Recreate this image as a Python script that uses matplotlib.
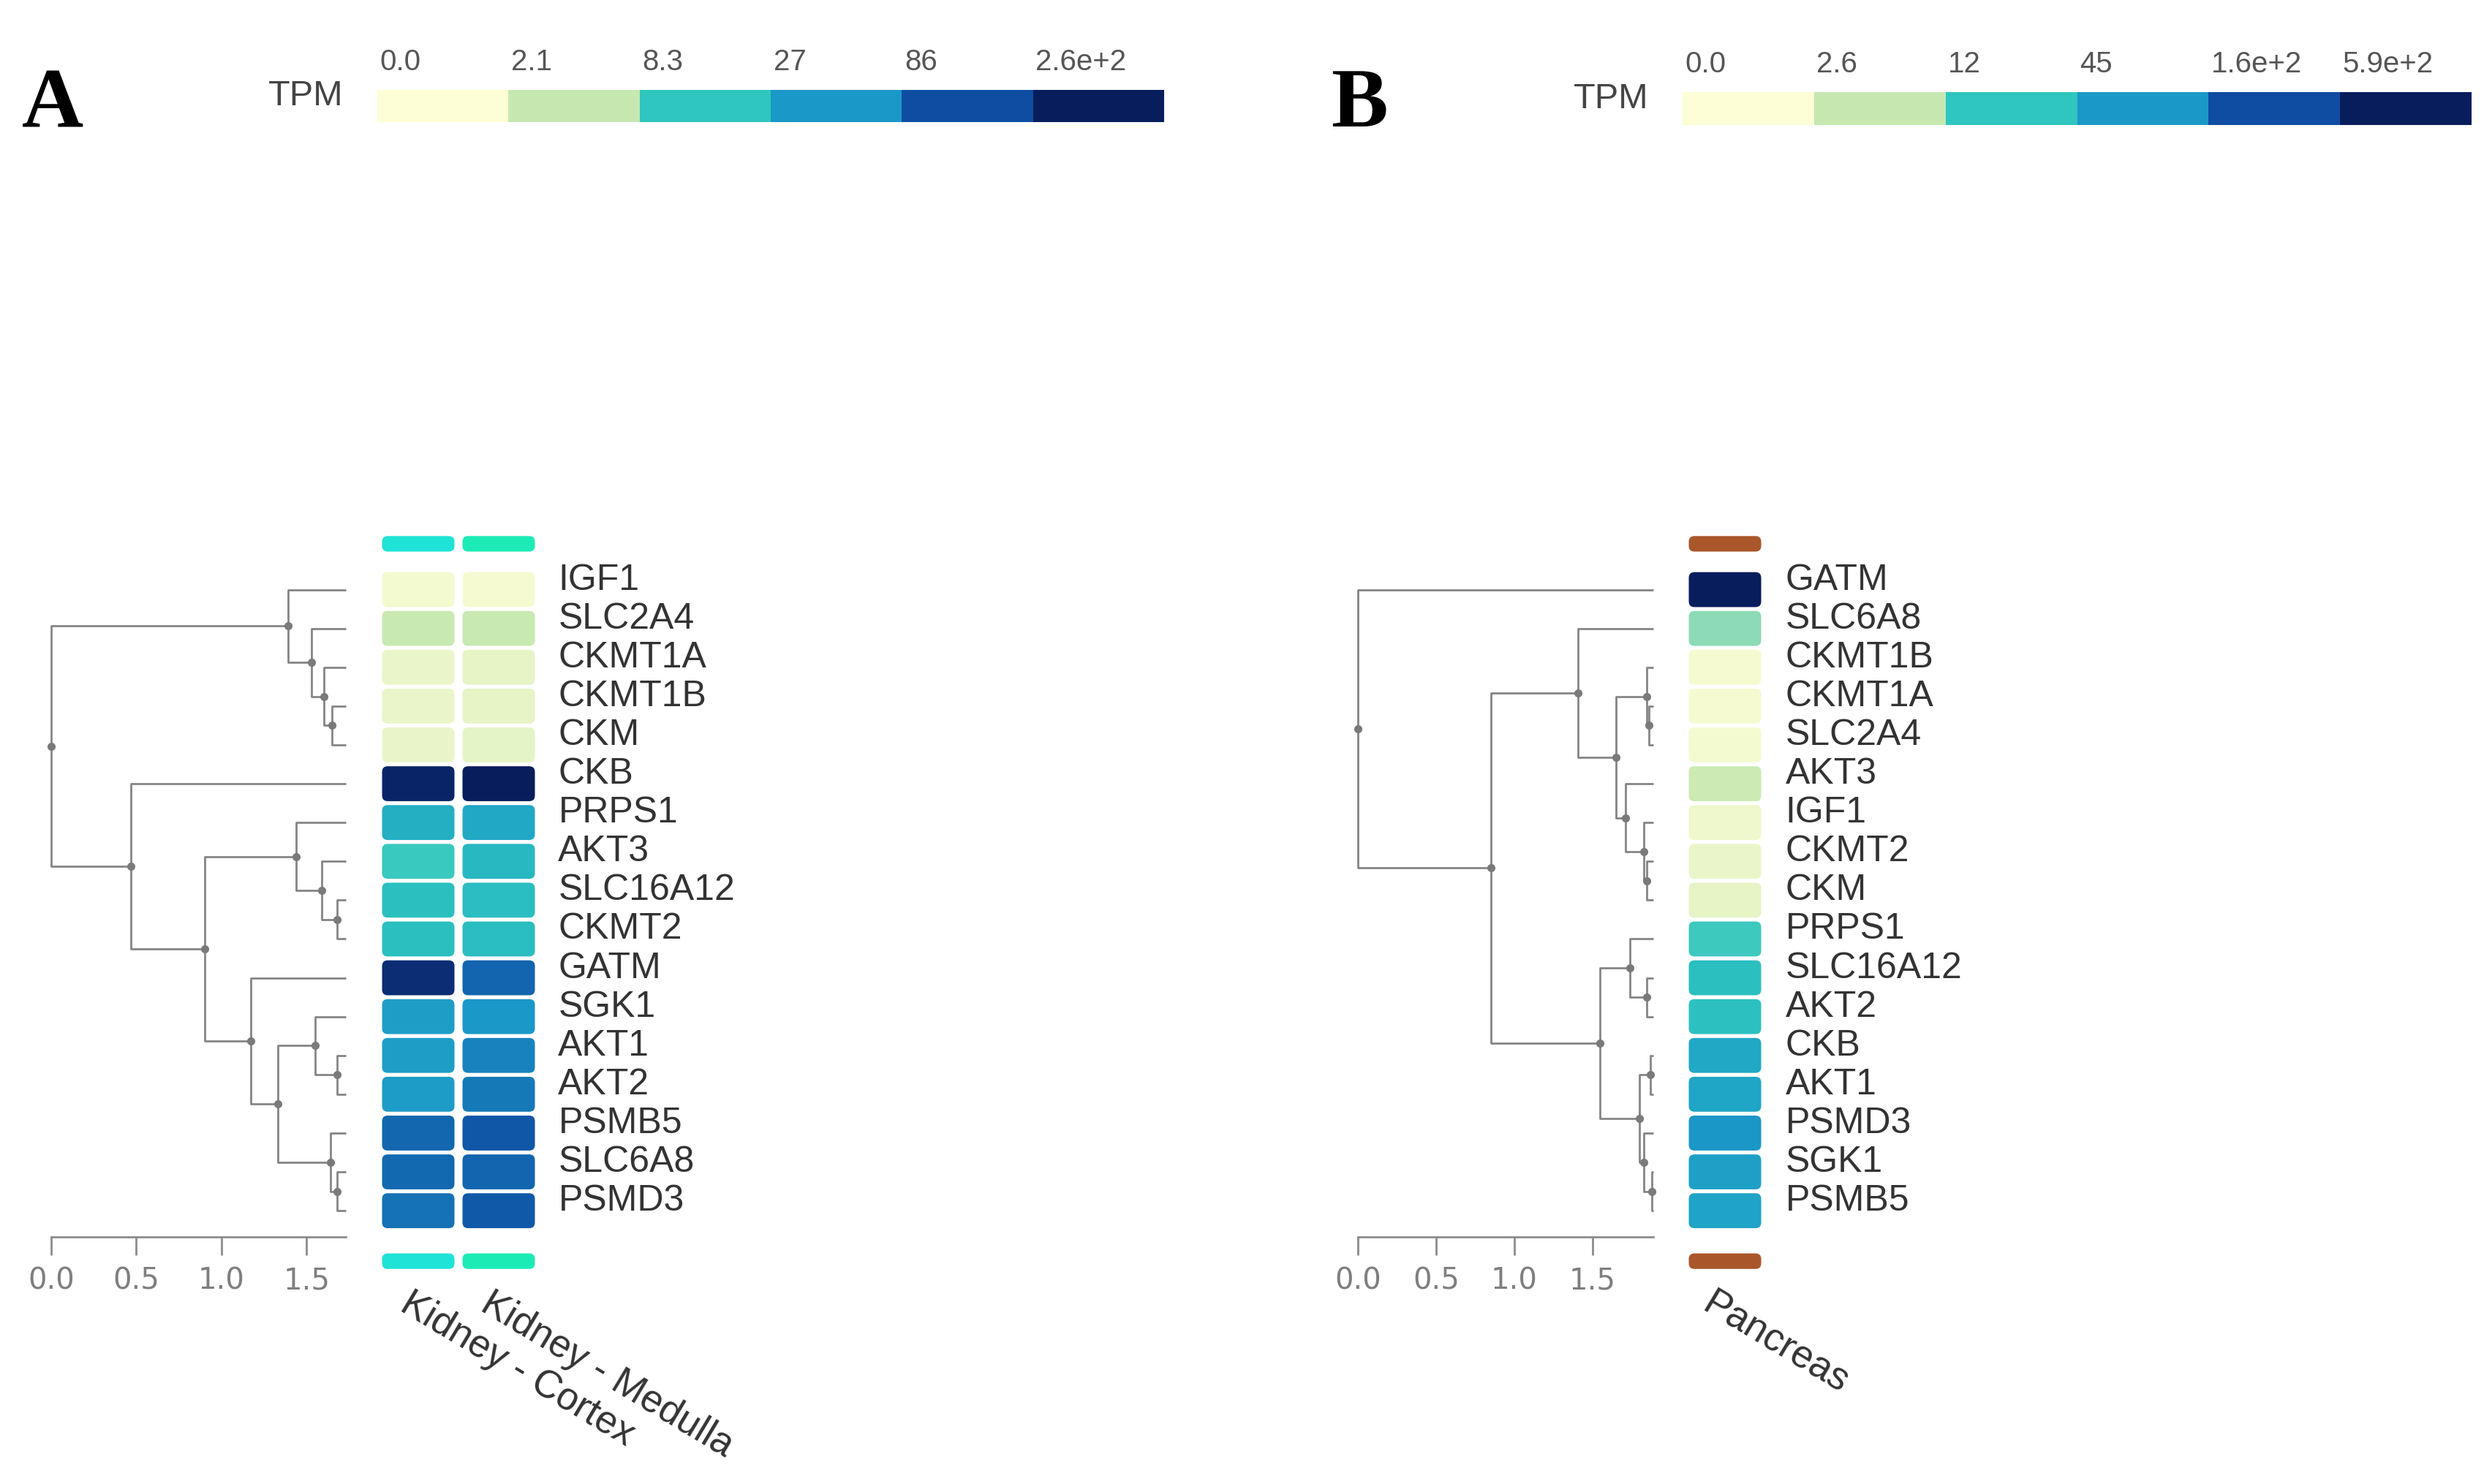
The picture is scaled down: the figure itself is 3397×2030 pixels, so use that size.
import numpy as np
import matplotlib
matplotlib.use('Agg')
import matplotlib.pyplot as plt
from matplotlib.colors import LinearSegmentedColormap
from matplotlib.patches import FancyBboxPatch

# ---- panel A: kidney ----
genes_a = ['IGF1', 'SLC2A4', 'CKMT1A', 'CKMT1B', 'CKM', 'CKB', 'PRPS1', 'AKT3',
           'SLC16A12', 'CKMT2', 'GATM', 'SGK1', 'AKT1', 'AKT2', 'PSMB5',
           'SLC6A8', 'PSMD3']
tissues_a = ['Kidney - Cortex', 'Kidney - Medulla']
tpm_cortex = [0.2, 2.0, 0.5, 0.5, 0.55, 210, 15, 7.5, 10, 10, 177, 23,
              23, 24.5, 57, 56, 49]
tpm_medulla = [0.17, 2.0, 0.6, 0.6, 0.65, 300, 18, 12, 10.5, 10.5, 60, 27,
               37.5, 43, 73, 60, 72]
tissue_colors_a = ['#1fe3d6', '#1debb5']
cbar_edges_a = [0, 2.1, 8.3, 27, 86, 260]
cbar_labels_a = ['0.0', '2.1', '8.3', '27', '86', '2.6e+2']
# merges: (child, child, node position on the distance axis)
merges_a = [(3, 4, 1.65), (2, 17, 1.60), (1, 18, 1.53), (0, 19, 1.39),
            (8, 9, 1.68), (7, 21, 1.59), (6, 22, 1.44),
            (12, 13, 1.68), (11, 24, 1.55), (15, 16, 1.68), (14, 26, 1.64),
            (25, 27, 1.33), (10, 28, 1.17), (23, 29, 0.90), (5, 30, 0.47),
            (20, 31, 0.0)]
leaf_end_a = 1.73

# ---- panel B: pancreas ----
genes_b = ['GATM', 'SLC6A8', 'CKMT1B', 'CKMT1A', 'SLC2A4', 'AKT3', 'IGF1',
           'CKMT2', 'CKM', 'PRPS1', 'SLC16A12', 'AKT2', 'CKB', 'AKT1', 'PSMD3',
           'SGK1', 'PSMB5']
tissues_b = ['Pancreas']
tpm_pancreas = [590, 4.8, 0.21, 0.21, 0.23, 2.2, 0.41, 0.59, 0.71, 10.4,
                14.7, 13.8, 28.6, 31.3, 46, 36, 33]
tissue_colors_b = ['#a9572a']
cbar_edges_b = [0, 2.6, 12, 45, 160, 590]
cbar_labels_b = ['0.0', '2.6', '12', '45', '1.6e+2', '5.9e+2']
merges_b = [(3, 4, 1.86), (2, 17, 1.85), (7, 8, 1.85), (6, 19, 1.83),
            (5, 20, 1.71), (18, 21, 1.65), (1, 22, 1.41),
            (10, 11, 1.85), (9, 24, 1.74), (12, 13, 1.87), (15, 16, 1.88),
            (14, 27, 1.83), (26, 28, 1.80), (25, 29, 1.55), (23, 30, 0.85),
            (0, 31, 0.0)]
leaf_end_b = 1.89

block_colors = ['#fdfdd6', '#c6e8b0', '#2ec6bf', '#1a98c8', '#0e4da2', '#081d5c']
cmap = LinearSegmentedColormap.from_list('tpm', block_colors)

W, H = 3397, 2030
ROW = 53.1
CELL_TOP = 780
fig = plt.figure(figsize=(W / 100, H / 100), dpi=100)

DENDRO_C = '#858585'
TEXT_C = '#333333'


def px_axes(left, top, right, bottom):
    return fig.add_axes([left / W, 1 - bottom / H, (right - left) / W,
                         (bottom - top) / H])


def tpm_color(v, edges):
    pos = np.interp(np.log1p(v), np.log1p(edges), np.arange(len(edges)))
    return cmap(pos / (len(edges) - 1))


def draw_cbar(left, top, right, bottom, labels):
    ax = px_axes(left, top, right, bottom)
    ax.bar(np.arange(len(labels)), 1, width=1, align='edge',
           color=block_colors, linewidth=0)
    ax.set_xlim(0, len(labels))
    ax.set_ylim(0, 1)
    ax.axis('off')
    h = bottom - top
    for i, lab in enumerate(labels):
        ax.text(i + 0.02, 1 + 38 / h, lab, ha='left', va='center',
                fontsize=29, color='#555555', family='Liberation Sans')
    ax.text(-0.26, 0.8, 'TPM', ha='right', va='center', fontsize=35,
            color='#444444', family='Liberation Sans')


def draw_dendro(left, right, merges, n, leaf_end):
    bottom = 1692
    ax = px_axes(left, CELL_TOP, right, bottom)
    xs = [leaf_end] * n
    ys = [i + 0.5 for i in range(n)]
    for a, b, h in merges:
        ax.plot([xs[a], h, h, xs[b]], [ys[a], ys[a], ys[b], ys[b]],
                color=DENDRO_C, lw=2.0, clip_on=False, solid_capstyle='butt')
        xs.append(h)
        ys.append((ys[a] + ys[b]) / 2)
    ax.plot(xs[n:], ys[n:], 'o', color='#7a7a7a', ms=7, clip_on=False)
    ax.set_xlim(0, leaf_end)
    ax.set_ylim((bottom - CELL_TOP) / ROW, 0)
    for s in ['top', 'left', 'right']:
        ax.spines[s].set_visible(False)
    ax.spines['bottom'].set_color('#8c8c8c')
    ax.spines['bottom'].set_linewidth(2)
    ax.set_yticks([])
    ax.set_xticks([0, 0.5, 1.0, 1.5])
    ax.set_xticklabels(['0.0', '0.5', '1.0', '1.5'])
    ax.tick_params(axis='x', length=18, width=2, color='#8c8c8c', pad=11,
                   labelsize=29, labelcolor='#7f7f7f')


def draw_heat(left, genes, columns, tissue_colors, edges, label_pad):
    ncol = len(columns)
    right = left + 110 * ncol
    top, bottom = 720, 1745
    ax = px_axes(left, top, right, bottom)
    ax.set_xlim(0, ncol)
    ax.set_ylim((bottom - CELL_TOP) / ROW, (top - CELL_TOP) / ROW)
    asp = 110 / ROW
    for j, vals in enumerate(columns):
        for i, v in enumerate(vals):
            ax.add_patch(FancyBboxPatch(
                (j + 0.05, i + 0.05), 0.9, 0.9,
                boxstyle='round,pad=0,rounding_size=0.07',
                mutation_aspect=asp, facecolor=tpm_color(v, edges),
                edgecolor='none'))
        for y0 in (-0.88, len(vals) + 0.6):
            ax.add_patch(FancyBboxPatch(
                (j + 0.05, y0), 0.9, 0.4,
                boxstyle='round,pad=0,rounding_size=0.07',
                mutation_aspect=asp, facecolor=tissue_colors[j],
                edgecolor='none'))
    ax.yaxis.tick_right()
    ax.set_yticks(np.arange(len(genes)) + 0.5)
    ax.set_yticklabels(genes, va='baseline', fontsize=36, color=TEXT_C,
                       family='Liberation Sans')
    ax.tick_params(axis='y', length=0, pad=label_pad)
    ax.set_xticks([])
    for s in ax.spines.values():
        s.set_visible(False)
    return ax


# panel A
fig.text(30 / W, 1 - 173 / H, 'A', fontsize=84, fontweight='bold',
         family='Liberation Serif', va='baseline')
draw_cbar(516, 123, 1592, 167, cbar_labels_a)
draw_dendro(70, 473, merges_a, len(genes_a), leaf_end_a)
ax_a = draw_heat(517, genes_a, [tpm_cortex, tpm_medulla], tissue_colors_a,
                 cbar_edges_a, 19)
for j, name in enumerate(tissues_a):
    ax_a.text(j + 0.43, (1758 - CELL_TOP) / ROW, name, rotation=-31,
              rotation_mode='anchor', ha='left', va='top', fontsize=38,
              color=TEXT_C, family='Liberation Sans')

# panel B
fig.text(1820 / W, 1 - 173 / H, 'B', fontsize=84, fontweight='bold',
         family='Liberation Serif', va='baseline')
draw_cbar(2301, 126, 3380, 171, cbar_labels_b)
draw_dendro(1857, 2261, merges_b, len(genes_b), leaf_end_b)
ax_b = draw_heat(2304, genes_b, [tpm_pancreas], tissue_colors_b,
                 cbar_edges_b, 20)
for j, name in enumerate(tissues_b):
    ax_b.text(j + 0.38, (1758 - CELL_TOP) / ROW, name, rotation=-31,
              rotation_mode='anchor', ha='left', va='top', fontsize=38,
              color=TEXT_C, family='Liberation Sans')

fig.savefig('out.png', dpi=100, facecolor='white')
